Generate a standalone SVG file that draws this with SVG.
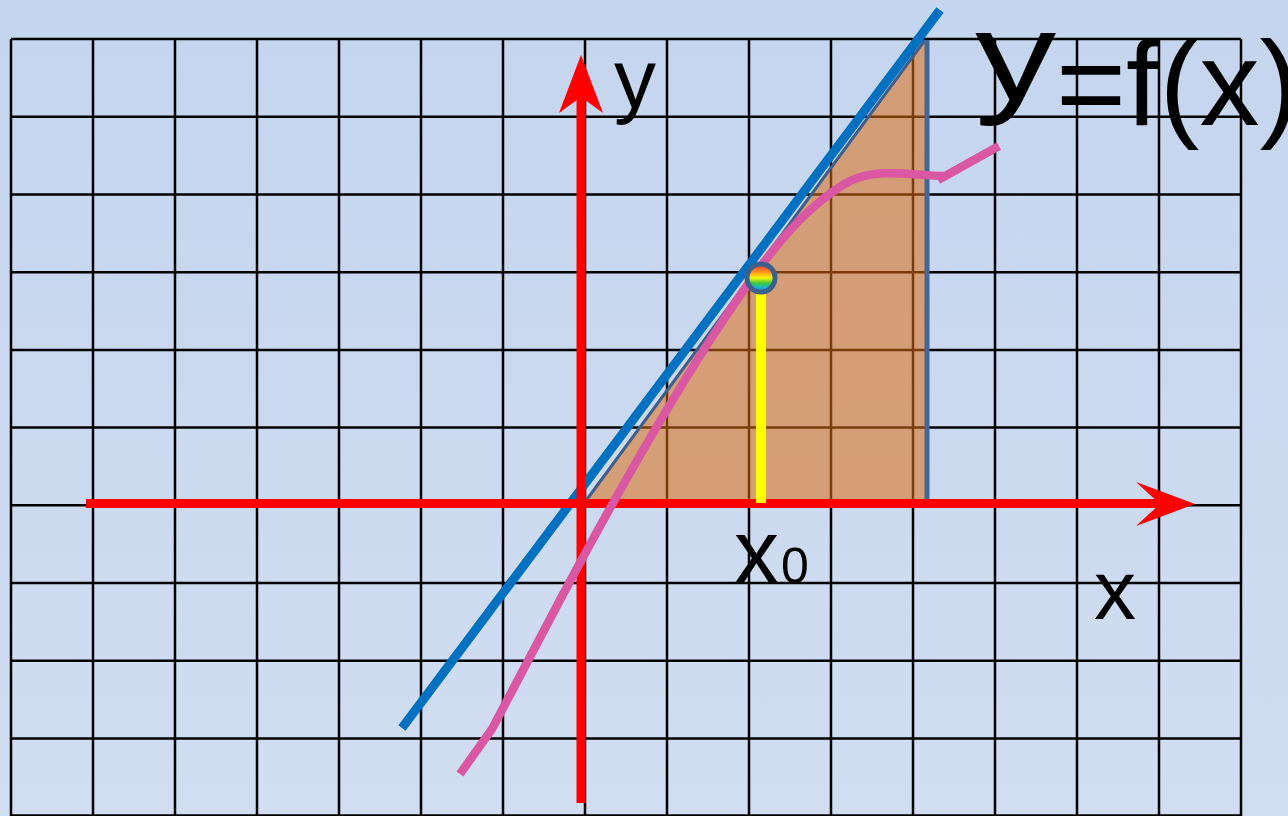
<svg xmlns="http://www.w3.org/2000/svg" width="1288" height="816" viewBox="0 0 1288 816">
<defs>
<linearGradient id="bg" x1="0" y1="0" x2="0" y2="1">
<stop offset="0" stop-color="#C4D5EE"/>
<stop offset="1" stop-color="#D1DDF1"/>
</linearGradient>
<linearGradient id="rainbow" x1="0" y1="0" x2="0" y2="1">
<stop offset="0" stop-color="#FF2A2A"/>
<stop offset="0.3" stop-color="#FF9A1E"/>
<stop offset="0.5" stop-color="#F5F50A"/>
<stop offset="0.68" stop-color="#3CC83C"/>
<stop offset="0.85" stop-color="#18B4D8"/>
<stop offset="1" stop-color="#2060E0"/>
</linearGradient>
<style>
.grid line{stroke:#000;stroke-width:2.5}
.lbl{font-family:"Liberation Sans",Arial,sans-serif;fill:#000}
.axis{stroke:#FF0000;stroke-width:9;fill:none}
.head{fill:#FF0000}
.pink{fill:none;stroke:#D957A3;stroke-width:8.5}
</style>
</defs>
<rect x="0" y="0" width="1288" height="816" fill="url(#bg)"/>
<g id="grid" class="grid">
<line x1="11" y1="39" x2="1241" y2="39"/>
<line x1="11" y1="116.7" x2="1241" y2="116.7"/>
<line x1="11" y1="194.4" x2="1241" y2="194.4"/>
<line x1="11" y1="272.2" x2="1241" y2="272.2"/>
<line x1="11" y1="349.9" x2="1241" y2="349.9"/>
<line x1="11" y1="427.6" x2="1241" y2="427.6"/>
<line x1="11" y1="505.3" x2="1241" y2="505.3"/>
<line x1="11" y1="583" x2="1241" y2="583"/>
<line x1="11" y1="660.8" x2="1241" y2="660.8"/>
<line x1="11" y1="738.5" x2="1241" y2="738.5"/>
<line x1="11" y1="815.5" x2="1241" y2="815.5"/>
<line x1="11" y1="39" x2="11" y2="816"/>
<line x1="93" y1="39" x2="93" y2="816"/>
<line x1="175" y1="39" x2="175" y2="816"/>
<line x1="257" y1="39" x2="257" y2="816"/>
<line x1="339" y1="39" x2="339" y2="816"/>
<line x1="421" y1="39" x2="421" y2="816"/>
<line x1="503" y1="39" x2="503" y2="816"/>
<line x1="585" y1="39" x2="585" y2="816"/>
<line x1="667" y1="39" x2="667" y2="816"/>
<line x1="749" y1="39" x2="749" y2="816"/>
<line x1="831" y1="39" x2="831" y2="816"/>
<line x1="913" y1="39" x2="913" y2="816"/>
<line x1="995" y1="39" x2="995" y2="816"/>
<line x1="1077" y1="39" x2="1077" y2="816"/>
<line x1="1159" y1="39" x2="1159" y2="816"/>
<line x1="1241" y1="39" x2="1241" y2="816"/>
</g>
<g id="triangle">
<polygon points="585,502 925,40 925,502" fill="#DC6E14" fill-opacity="0.55"/>
<line x1="585" y1="502" x2="925" y2="40" stroke="#3F5F8A" stroke-width="3"/>
<line x1="927" y1="40" x2="927" y2="502" stroke="#44679A" stroke-width="5"/>
</g>
<g id="tangent">
<line x1="402" y1="728" x2="940" y2="10" stroke="#0070C0" stroke-width="9"/>
</g>
<g id="axes">
<line class="axis" x1="86" y1="503.5" x2="1165" y2="503.5"/>
<polygon class="head" points="1195,504 1136,482 1160,504 1136,526"/>
<line class="axis" x1="581" y1="803" x2="581" y2="92"/>
<polygon class="head" points="581,55 559,113 581,97 603,113"/>
</g>
<g id="curve">
<path class="pink" d="M460,774 L492,729 L560,600 C600,525 662,412 722,322 C762,262 800,208 850,181 C880,167 915,176 945,176"/>
<line class="pink" x1="938" y1="180" x2="999" y2="146"/>
</g>
<g id="x0-marker">
<line x1="761" y1="290" x2="761" y2="503" stroke="#FFFF00" stroke-width="10"/>
<circle cx="761" cy="278" r="14" fill="url(#rainbow)" stroke="#3D5F8C" stroke-width="5"/>
</g>
<g id="labels">
<text class="lbl" x="614" y="108" font-size="84">y</text>
<text class="lbl" x="1094" y="619" font-size="84">x</text>
<text class="lbl" x="734" y="583" font-size="90">x</text>
<text class="lbl" x="781" y="583" font-size="50">0</text>
<text class="lbl" transform="translate(975,100) scale(1.28,1)" x="0" y="0" font-size="127">y</text>
<text class="lbl" x="1056" y="125" font-size="120">=f(x)</text>
</g>
</svg>
